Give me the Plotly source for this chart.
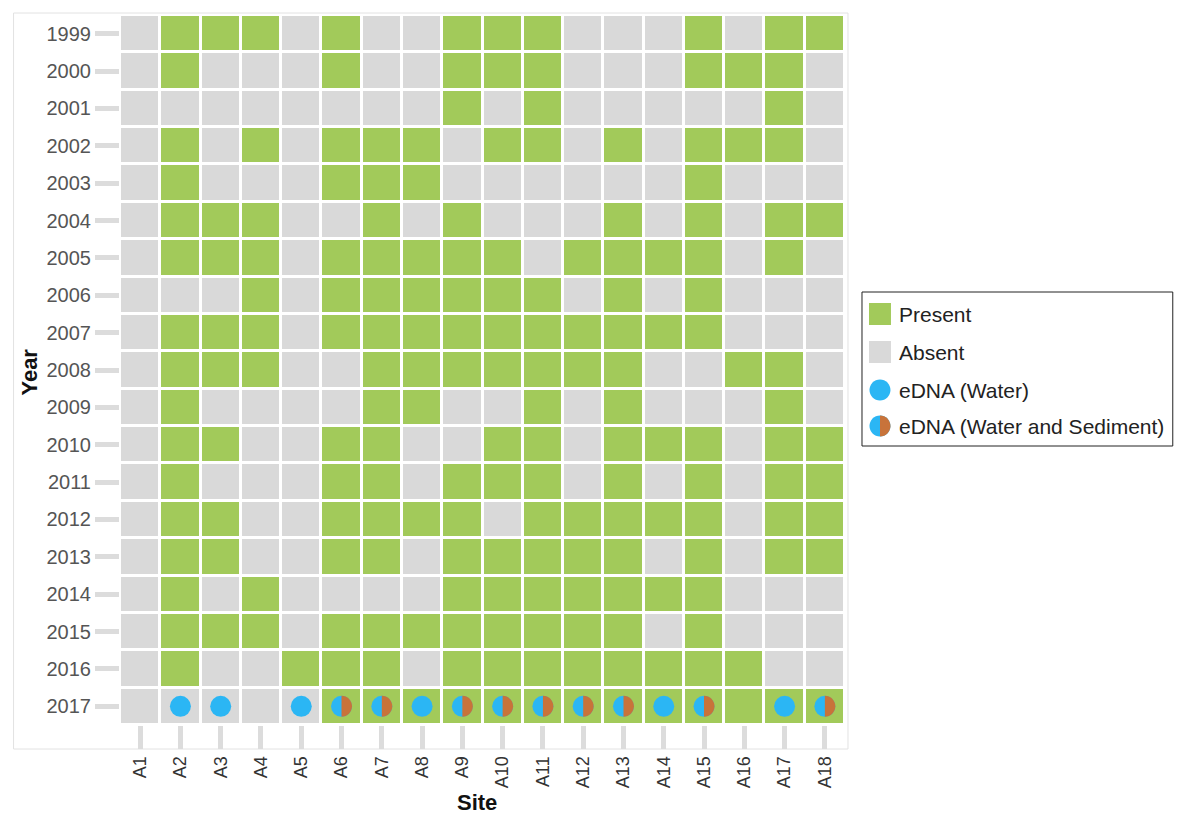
import plotly.graph_objects as go

# ---- data -------------------------------------------------------------
sites = [f"A{i}" for i in range(1, 19)]
years = [str(y) for y in range(1999, 2018)]

# 1 = species recorded at the site in that year, 0 = not recorded
presence = [
    [0, 1, 1, 1, 0, 1, 0, 0, 1, 1, 1, 0, 0, 0, 1, 0, 1, 1],  # 1999
    [0, 1, 0, 0, 0, 1, 0, 0, 1, 1, 1, 0, 0, 0, 1, 1, 1, 0],  # 2000
    [0, 0, 0, 0, 0, 0, 0, 0, 1, 0, 1, 0, 0, 0, 0, 0, 1, 0],  # 2001
    [0, 1, 0, 1, 0, 1, 1, 1, 0, 1, 1, 0, 1, 0, 1, 1, 1, 0],  # 2002
    [0, 1, 0, 0, 0, 1, 1, 1, 0, 0, 0, 0, 0, 0, 1, 0, 0, 0],  # 2003
    [0, 1, 1, 1, 0, 0, 1, 0, 1, 0, 0, 0, 1, 0, 1, 0, 1, 1],  # 2004
    [0, 1, 1, 1, 0, 1, 1, 1, 1, 1, 0, 1, 1, 1, 1, 0, 1, 0],  # 2005
    [0, 0, 0, 1, 0, 1, 1, 1, 1, 1, 1, 0, 1, 0, 1, 0, 0, 0],  # 2006
    [0, 1, 1, 1, 0, 1, 1, 1, 1, 1, 1, 1, 1, 1, 1, 0, 0, 0],  # 2007
    [0, 1, 1, 1, 0, 0, 1, 1, 1, 1, 1, 1, 1, 0, 0, 1, 1, 0],  # 2008
    [0, 1, 0, 0, 0, 0, 1, 1, 0, 0, 1, 0, 1, 0, 0, 0, 1, 0],  # 2009
    [0, 1, 1, 0, 0, 1, 1, 0, 0, 1, 1, 0, 1, 1, 1, 0, 1, 1],  # 2010
    [0, 1, 0, 0, 0, 1, 1, 0, 1, 1, 1, 0, 1, 0, 1, 0, 1, 1],  # 2011
    [0, 1, 1, 0, 0, 1, 1, 1, 1, 0, 1, 1, 1, 1, 1, 0, 1, 1],  # 2012
    [0, 1, 1, 0, 0, 1, 1, 0, 1, 1, 1, 1, 1, 0, 1, 0, 1, 1],  # 2013
    [0, 1, 0, 1, 0, 0, 0, 0, 1, 1, 1, 1, 1, 1, 1, 0, 0, 0],  # 2014
    [0, 1, 1, 1, 0, 1, 1, 1, 1, 1, 1, 1, 1, 0, 1, 0, 0, 0],  # 2015
    [0, 1, 0, 0, 1, 1, 1, 0, 1, 1, 1, 1, 1, 1, 1, 1, 0, 0],  # 2016
    [0, 0, 0, 0, 0, 1, 1, 1, 1, 1, 1, 1, 1, 1, 1, 1, 1, 1],  # 2017
]

edna_year = "2017"
edna_water = ["A2", "A3", "A5", "A8", "A14", "A17"]
edna_water_sediment = ["A6", "A7", "A9", "A10", "A11", "A12", "A13", "A15", "A18"]

legend_labels = ["Present", "Absent", "eDNA (Water)", "eDNA (Water and Sediment)"]

# ---- styling ----------------------------------------------------------
GREEN = "#a2ca5a"
GREY = "#d9d9d9"
BLUE = "#2bb6f4"
ORANGE = "#c8733a"
TICK = "#dcdcdc"
FONT = "Liberation Sans, Arial, sans-serif"

W, H = 1192, 824
L, R, T, B = 119.5, 845, 15, 725  # plot area in pixels


def px(x):
    return (x - L) / (R - L)


def py(y):
    return (B - y) / (B - T)


def right_half(r):
    c = 0.5523 * r
    return (f"M 0,{-r} C {c},{-r} {r},{-c} {r},0 "
            f"C {r},{c} {c},{r} 0,{r} Z")


def full_circle(r):
    c = 0.5523 * r
    return (f"M 0,{-r} C {c},{-r} {r},{-c} {r},0 C {r},{c} {c},{r} 0,{r} "
            f"C {-c},{r} {-r},{c} {-r},0 C {-r},{-c} {-c},{-r} 0,{-r} Z")


xi = list(range(len(sites)))
yi = list(range(len(years)))

fig = go.Figure()

# presence / absence grid
fig.add_trace(go.Heatmap(
    z=presence, x=xi, y=yi,
    colorscale=[[0, GREY], [1, GREEN]], zmin=0, zmax=1,
    xgap=3, ygap=3, showscale=False, hoverinfo="skip",
))

# eDNA detections: blue disc at every detecting site
edna_sites = [s for s in sites if s in edna_water or s in edna_water_sediment]
fig.add_trace(go.Scatter(
    x=[sites.index(s) for s in edna_sites],
    y=[years.index(edna_year)] * len(edna_sites),
    mode="markers",
    marker=dict(symbol="circle", size=21, color=BLUE, line=dict(width=0)),
    hoverinfo="skip", showlegend=False,
))

shapes = []
# sediment half (right side) for water + sediment detections
for s in edna_water_sediment:
    shapes.append(dict(
        type="path", xref="x", yref="y",
        xsizemode="pixel", ysizemode="pixel",
        xanchor=sites.index(s), yanchor=years.index(edna_year),
        path=right_half(10.5), fillcolor=ORANGE, line=dict(width=0),
    ))

# light outer frame
shapes.append(dict(type="rect", xref="paper", yref="paper",
                   x0=px(13), x1=px(848), y0=py(749), y1=py(13),
                   line=dict(color="#e2e2e2", width=1), layer="below"))

# legend box and symbols
shapes.append(dict(type="rect", xref="paper", yref="paper",
                   x0=px(862), x1=px(1173), y0=py(446), y1=py(292),
                   line=dict(color="#222222", width=1)))
leg_y = [314, 352, 390, 426]
for yy, col in zip(leg_y[:2], [GREEN, GREY]):
    shapes.append(dict(type="rect", xref="paper", yref="paper",
                       x0=px(869), x1=px(891), y0=py(yy + 11), y1=py(yy - 11),
                       fillcolor=col, line=dict(width=0)))
for yy in leg_y[2:]:
    shapes.append(dict(type="path", xref="paper", yref="paper",
                       xsizemode="pixel", ysizemode="pixel",
                       xanchor=px(880), yanchor=py(yy),
                       path=full_circle(10.5), fillcolor=BLUE, line=dict(width=0)))
shapes.append(dict(type="path", xref="paper", yref="paper",
                   xsizemode="pixel", ysizemode="pixel",
                   xanchor=px(880), yanchor=py(leg_y[3]),
                   path=right_half(10.5), fillcolor=ORANGE, line=dict(width=0)))

annotations = []
for yy, txt in zip(leg_y, legend_labels):
    annotations.append(dict(
        xref="paper", yref="paper", x=px(897), y=py(yy),
        xanchor="left", yanchor="middle", text=txt, showarrow=False,
        font=dict(family=FONT, size=21, color="#222222"),
    ))
# axis titles
annotations.append(dict(xref="paper", yref="paper", x=px(477), y=py(802),
                        xanchor="center", yanchor="middle", text="<b>Site</b>",
                        showarrow=False, font=dict(family=FONT, size=22, color="#111111")))
annotations.append(dict(xref="paper", yref="paper", x=px(28), y=py(372),
                        xanchor="center", yanchor="middle", text="<b>Year</b>",
                        textangle=-90, showarrow=False,
                        font=dict(family=FONT, size=22, color="#111111")))

fig.update_layout(
    width=W, height=H,
    margin=dict(l=L, r=W - R, t=T, b=H - B, pad=0),
    paper_bgcolor="white", plot_bgcolor="white",
    font=dict(family=FONT),
    showlegend=False,
    shapes=shapes, annotations=annotations,
    xaxis=dict(
        range=[-0.5, len(sites) - 0.5], tickmode="array",
        tickvals=xi, ticktext=sites, tickangle=-90,
        ticks="outside", ticklen=23, tickwidth=5, tickcolor=TICK,
        showgrid=False, zeroline=False, showline=False, fixedrange=True,
        tickfont=dict(family=FONT, size=18, color="#333333"),
    ),
    yaxis=dict(
        range=[len(years) - 0.5, -0.5], tickmode="array",
        tickvals=yi, ticktext=years,
        ticks="outside", ticklen=24, tickwidth=5, tickcolor=TICK,
        showgrid=False, zeroline=False, showline=False, fixedrange=True,
        tickfont=dict(family=FONT, size=20, color="#555555"),
    ),
)

fig.write_html("out.html")
